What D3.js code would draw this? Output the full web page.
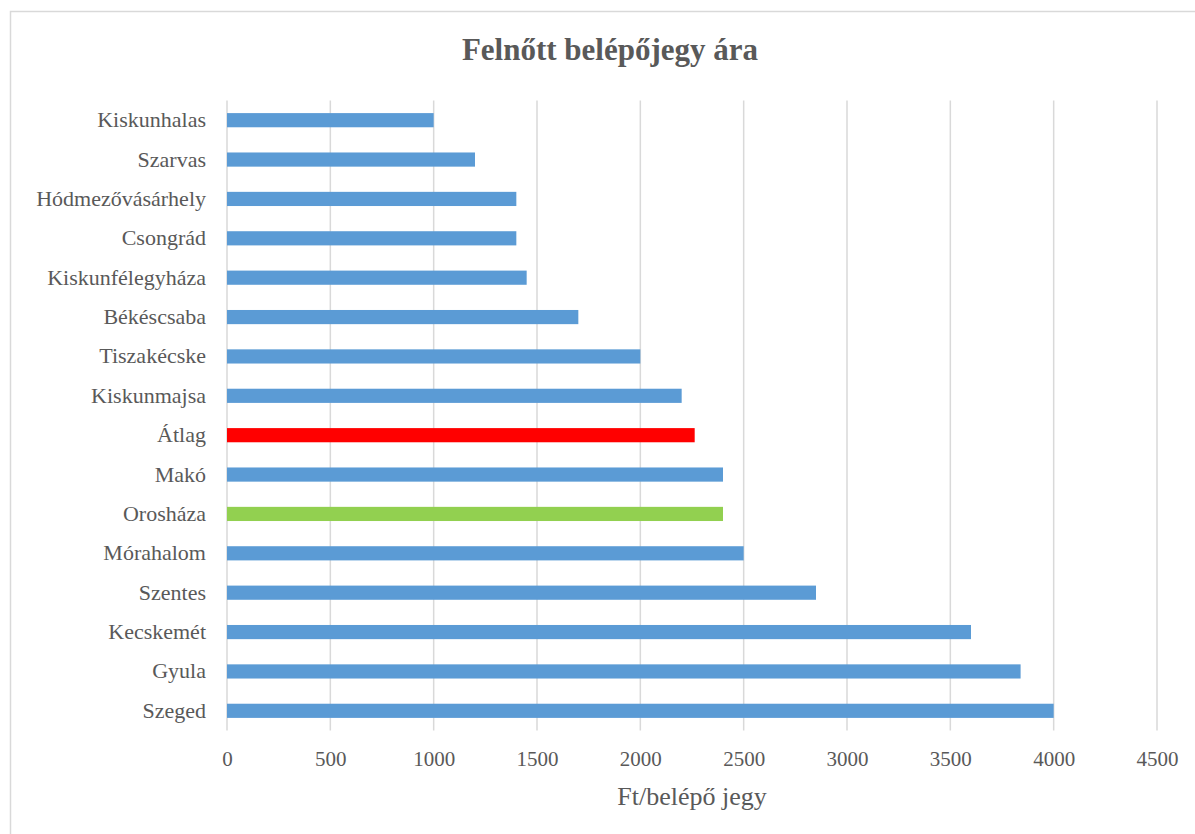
<!DOCTYPE html>
<html><head><meta charset="utf-8">
<script src="https://cdn.jsdelivr.net/npm/d3@7"></script>
<style>
body{margin:0;background:#fff;}
svg text{font-family:"Liberation Serif","DejaVu Serif",serif !important;fill:#595959;}
</style></head>
<body><svg id="c" width="1195" height="834"></svg>
<script>
const categories = ["Kiskunhalas","Szarvas","Hódmezővásárhely","Csongrád","Kiskunfélegyháza","Békéscsaba","Tiszakécske","Kiskunmajsa","Átlag","Makó","Orosháza","Mórahalom","Szentes","Kecskemét","Gyula","Szeged"];
const values = [1000,1200,1400,1400,1450,1700,2000,2200,2263,2400,2400,2500,2850,3600,3840,4000];
const highlight = {"Átlag":"#FF0000","Orosháza":"#92D050"};
const baseColor = "#5B9BD5";
const xTicks = [0,500,1000,1500,2000,2500,3000,3500,4000,4500];
const titleText = "Felnőtt belépőjegy ára";
const xAxisTitle = "Ft/belépő jegy";

const svg = d3.select("#c");
svg.append("rect").attr("x",10.5).attr("y",11.5).attr("width",1200).attr("height",840)
  .attr("fill","#fff").attr("stroke","#d9d9d9").attr("stroke-width",1.5);

const pL=227, pR=1157, pT=100.5, pB=730.5;
const x = d3.scaleLinear().domain([0,4500]).range([pL,pR]);
const y = d3.scaleBand().domain(categories).range([pT,pB]).paddingInner(0.64).paddingOuter(0.32);

const grid = svg.append("g");
grid.selectAll("line").data(xTicks).join("line")
  .attr("x1",d=>x(d)).attr("x2",d=>x(d)).attr("y1",pT).attr("y2",pB)
  .attr("stroke","#d9d9d9").attr("stroke-width",1.5);

svg.append("g").selectAll("rect").data(categories).join("rect")
  .attr("x",x(0)).attr("y",d=>y(d)).attr("height",y.bandwidth())
  .attr("width",(d,i)=>x(values[i])-x(0))
  .attr("fill",d=>highlight[d]||baseColor);

const xAxis = svg.append("g").attr("transform",`translate(0,${pB})`)
  .call(d3.axisBottom(x).tickValues(xTicks).tickSize(0).tickPadding(21).tickFormat(d3.format("d")));
xAxis.select(".domain").remove();
xAxis.selectAll("text").style("font-size","21px").attr("fill","#595959");

const yAxis = svg.append("g").attr("transform",`translate(${pL},0)`)
  .call(d3.axisLeft(y).tickSize(0).tickPadding(21));
yAxis.select(".domain").remove();
yAxis.selectAll("text").style("font-size","22px").attr("fill","#595959");

svg.append("text").attr("x",610).attr("y",60).attr("text-anchor","middle")
  .style("font-size","31px").style("font-weight","bold").text(titleText);
svg.append("text").attr("x",(pL+pR)/2).attr("y",805).attr("text-anchor","middle")
  .style("font-size","26px").text(xAxisTitle);
</script></body></html>
